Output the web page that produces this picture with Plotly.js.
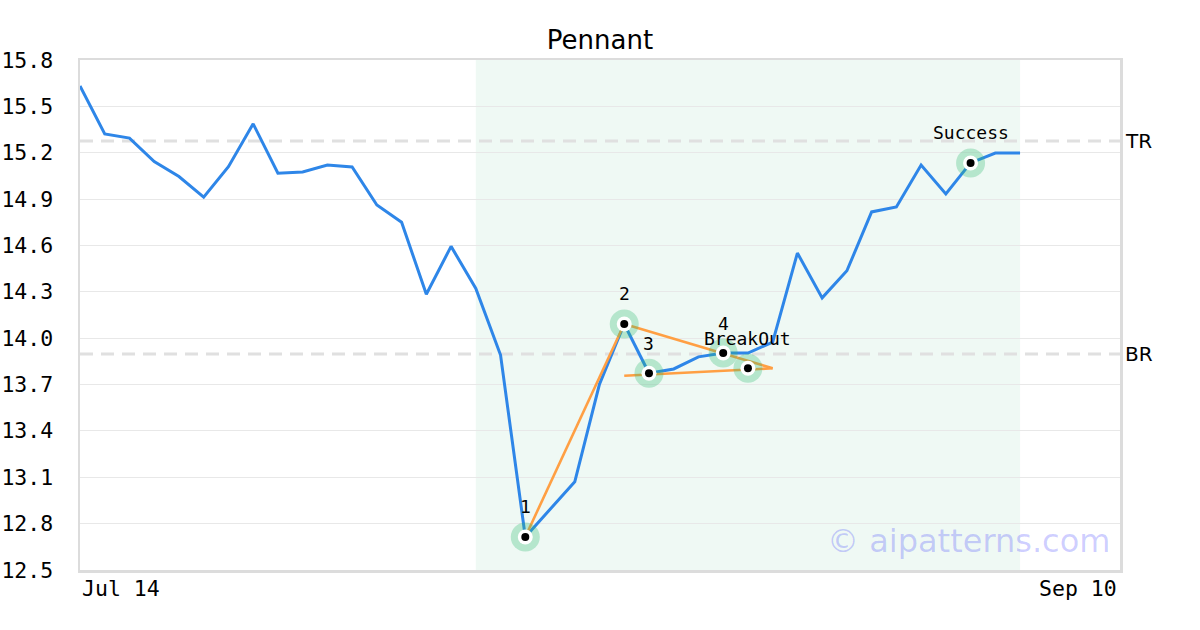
<!DOCTYPE html>
<html>
<head>
<meta charset="utf-8">
<script src="https://cdn.plot.ly/plotly-3.0.1.min.js"></script>
<style>html,body{margin:0;padding:0;background:#fff;}#chart{width:1200px;height:630px;}</style>
</head>
<body>
<div id="chart"></div>
<script>
// Price series (index = trading day)
const priceX = [0,1,2,3,4,5,6,7,8,9,10,11,12,13,14,15,16,17,18,19,20,21,22,23,24,25,26,27,28,29,30,31,32,33,34,35,36,37,38];
const priceY = [15.632,15.322,15.295,15.143,15.046,14.912,15.110,15.387,15.068,15.075,15.120,15.108,14.862,14.750,14.284,14.594,14.322,13.891,12.714,12.895,13.071,13.703,14.092,13.773,13.801,13.879,13.904,13.904,13.975,14.551,14.261,14.436,14.817,14.849,15.120,14.933,15.134,15.198,15.198];

// Pattern pivots
const pivotX = [18, 22, 23, 26, 27, 36];
const pivotY = [12.714, 14.092, 13.773, 13.904, 13.805, 15.134];
const pivotLabels = ["1", "2", "3", "4", "BreakOut", "Success"];

// Trend lines
const poleX = [18, 22];
const poleY = [12.714, 14.092];
const upperX = [22, 28];
const upperY = [14.092, 13.805];
const lowerX = [22, 28];
const lowerY = [13.757, 13.805];

// Levels
const levelNames = ["TR", "BR"];
const levelValues = [15.276, 13.898];

// Pattern window
const windowStart = 16;
const windowEnd = 38;

// Axes
const xTickLabels = ["Jul 14", "Sep 10"];
const yTicks = [12.5,12.8,13.1,13.4,13.7,14.0,14.3,14.6,14.9,15.2,15.5,15.8];
const xMax = 42.04;

const mono = "DejaVu Sans Mono, monospace";
const sans = "DejaVu Sans, sans-serif";

const traces = [
  {x: priceX, y: priceY, mode: "lines", line: {color: "#2e86e8", width: 3}, hoverinfo: "skip"},
  {x: poleX, y: poleY, mode: "lines", line: {color: "#ff9f43", width: 2.6}, hoverinfo: "skip"},
  {x: upperX, y: upperY, mode: "lines", line: {color: "#ff9f43", width: 2.6}, hoverinfo: "skip"},
  {x: lowerX, y: lowerY, mode: "lines", line: {color: "#ff9f43", width: 2.6}, hoverinfo: "skip"},
  {x: pivotX, y: pivotY, mode: "markers", marker: {size: 29, color: "rgba(46,184,114,0.3)", line: {width: 0}}, hoverinfo: "skip"},
  {x: pivotX, y: pivotY, mode: "markers", marker: {size: 15, color: "#ffffff", line: {width: 0}}, hoverinfo: "skip"},
  {x: pivotX, y: pivotY, mode: "markers", marker: {size: 8, color: "#000000", line: {width: 0}}, hoverinfo: "skip"}
];

const shapes = [
  {type: "rect", xref: "x", yref: "paper", x0: windowStart, x1: windowEnd, y0: 0, y1: 1,
   fillcolor: "rgba(46,184,114,0.08)", line: {width: 0}, layer: "below"}
];
levelValues.forEach(v => shapes.push({
  type: "line", xref: "paper", yref: "y", x0: 0, x1: 1, y0: v, y1: v,
  line: {color: "#e0e0e0", width: 3, dash: "13px,8px"}, layer: "below"
}));

const annotations = [];
pivotX.forEach((x, i) => annotations.push({
  x: x, y: pivotY[i], xref: "x", yref: "y", text: pivotLabels[i], showarrow: false,
  yshift: 30, font: {family: mono, size: 18, color: "#000"}
}));
levelNames.forEach((n, i) => annotations.push({
  x: 1, y: levelValues[i], xref: "paper", yref: "y", text: n, showarrow: false,
  xanchor: "left", xshift: 3, font: {family: sans, size: 20, color: "#000"}
}));
annotations.push({x: 0, y: 0, xref: "paper", yref: "paper", text: xTickLabels[0], showarrow: false,
  xanchor: "left", yanchor: "top", yshift: -4, font: {family: mono, size: 21.5, color: "#000"}});
annotations.push({x: 1, y: 0, xref: "paper", yref: "paper", text: xTickLabels[1], showarrow: false,
  xanchor: "right", yanchor: "top", yshift: -4, xshift: -1, font: {family: mono, size: 21.5, color: "#000"}});
annotations.push({x: 1, y: 0.057, xref: "paper", yref: "paper", text: "© aipatterns.com", showarrow: false,
  xanchor: "right", yanchor: "middle", xshift: -8, font: {family: sans, size: 32, color: "rgba(0,0,255,0.2)"}});

const layout = {
  width: 1200, height: 630,
  margin: {l: 80, r: 80, t: 60, b: 60, pad: 0},
  paper_bgcolor: "#ffffff", plot_bgcolor: "#ffffff",
  showlegend: false,
  title: {text: "Pennant", x: 0.5, xanchor: "center", y: 1 - 40/630, yref: "container", yanchor: "middle",
          font: {family: sans, size: 26, color: "#000"}},
  xaxis: {range: [0, xMax], showgrid: false, zeroline: false, showticklabels: false, ticks: "",
          showline: true, linecolor: "#dcdcdc", linewidth: 2.5, mirror: true, fixedrange: true},
  yaxis: {range: [12.5, 15.8], tickvals: yTicks, ticktext: yTicks.map(v => v.toFixed(1)),
          showgrid: true, gridcolor: "#e8e8e8", gridwidth: 1, zeroline: false,
          ticks: "outside", ticklen: 20, tickcolor: "rgba(0,0,0,0)",
          tickfont: {family: mono, size: 21.5, color: "#000"},
          showline: true, linecolor: "#dcdcdc", linewidth: 2.5, mirror: true, fixedrange: true},
  shapes: shapes,
  annotations: annotations
};

Plotly.newPlot("chart", traces, layout, {displayModeBar: false, staticPlot: true});
</script>
</body>
</html>
